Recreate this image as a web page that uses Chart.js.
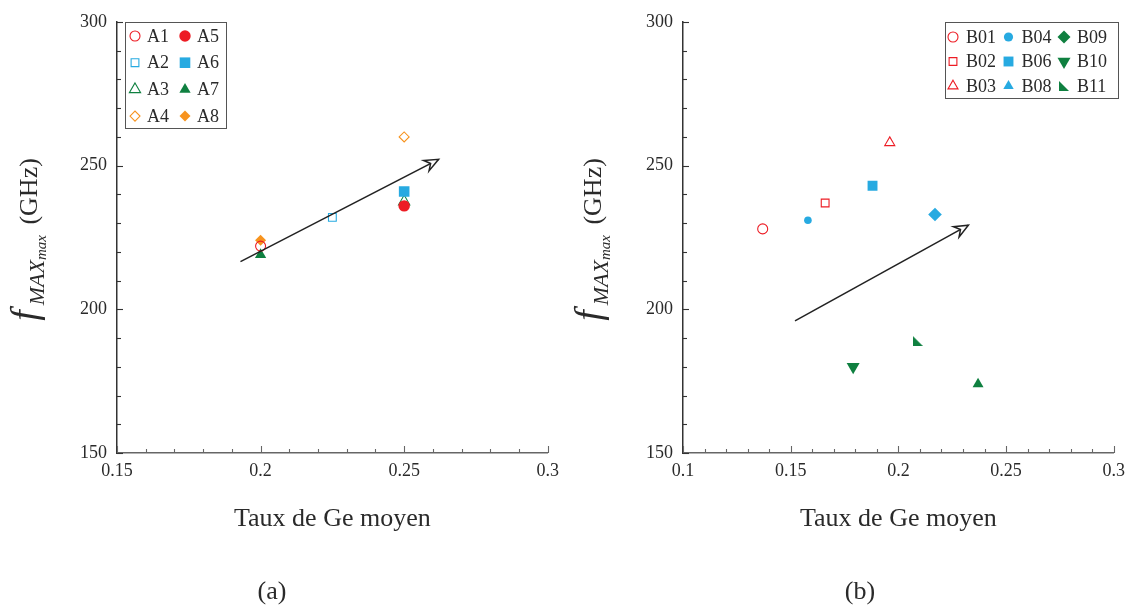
<!DOCTYPE html>
<html>
<head>
<meta charset="utf-8">
<script src="https://cdn.jsdelivr.net/npm/chart.js@4/dist/chart.umd.min.js"></script>
<style>
  html, body { margin: 0; padding: 0; background: #fff; }
  #wrap { position: relative; width: 1132px; height: 608px; }
  canvas { position: absolute; top: 0; }
  #chartA { left: 0; }
  #chartB { left: 566px; }
</style>
</head>
<body>
<div id="wrap">
  <canvas id="chartA" width="566" height="608"></canvas>
  <canvas id="chartB" width="566" height="608"></canvas>
</div>
<script>
// panel (a)
const seriesA = ["A1", "A2", "A3", "A4", "A5", "A6", "A7", "A8"];
const geA = [0.2, 0.225, 0.25, 0.25, 0.25, 0.25, 0.2, 0.2];
const fmaxA = [222, 232, 237.5, 260, 236, 241, 219, 224];
const arrowAx = [0.193, 0.262];
const arrowAy = [216.6, 252.2];
const legendA = ["A1", "A5", "A2", "A6", "A3", "A7", "A4", "A8"];

// panel (b)
const seriesB = ["B01", "B02", "B03", "B04", "B06", "B08", "B09", "B10", "B11"];
const geB = [0.137, 0.166, 0.196, 0.158, 0.188, 0.217, 0.237, 0.179, 0.209];
const fmaxB = [228, 237, 258, 231, 243, 233, 174, 180, 189];
const arrowBx = [0.152, 0.2325];
const arrowBy = [196, 229.3];
const legendB = ["B01", "B04", "B09", "B02", "B06", "B10", "B03", "B08", "B11"];

// axes
const xTicksA = [0.15, 0.2, 0.25, 0.3];
const xTicksB = [0.1, 0.15, 0.2, 0.25, 0.3];
const yTicks = [150, 200, 250, 300];

const RED = "#ed1c24", BLUE = "#27aae1", GREEN = "#0f8040", ORANGE = "#f7931e";
const INK = "#2a2a2a";
const SERIF = '"Liberation Serif", "DejaVu Serif", serif';

function rightTri(size, color) {
  const c = document.createElement("canvas");
  c.width = size; c.height = size;
  const g = c.getContext("2d");
  g.fillStyle = color;
  g.beginPath(); g.moveTo(0, 0); g.lineTo(0, size); g.lineTo(size, size); g.closePath(); g.fill();
  return c;
}

const marksA = {
  A1: { style: "circle", color: RED, open: true, r: 5, order: 2 },
  A2: { style: "rect", color: BLUE, open: true, r: 5.5 },
  A3: { style: "triangle", color: GREEN, open: true, r: 6.5, order: 4 },
  A4: { style: "rectRot", color: ORANGE, open: true, r: 5 },
  A5: { style: "circle", color: RED, open: false, r: 5.7, order: 1 },
  A6: { style: "rect", color: BLUE, open: false, r: 7.5, order: 3 },
  A7: { style: "triangle", color: GREEN, open: false, r: 6.5, order: 4 },
  A8: { style: "rectRot", color: ORANGE, open: false, r: 5.5, order: 3 }
};

const marksB = {
  B01: { style: "circle", color: RED, open: true, r: 5 },
  B02: { style: "rect", color: RED, open: true, r: 5.5 },
  B03: { style: "triangle", color: RED, open: true, r: 5.8 },
  B04: { style: "circle", color: BLUE, open: false, r: 3.8 },
  B06: { style: "rect", color: BLUE, open: false, r: 7 },
  B08: { style: "rectRot", color: BLUE, open: false, r: 6.8 },
  B09: { style: "triangle", color: GREEN, open: false, r: 6.3 },
  B10: { style: "triangle", color: GREEN, open: false, r: 7.5, rot: 180 },
  B11: { style: rightTri(10, GREEN), color: GREEN, open: false, r: 5 }
};

// the legend of (b) shows other symbols for B08 / B09 than the plot
const legendMarksB = Object.assign({}, marksB, {
  B04: { style: "circle", color: BLUE, open: false, r: 4.6 },
  B08: { style: "triangle", color: BLUE, open: false, r: 6 },
  B09: { style: "rectRot", color: GREEN, open: false, r: 6.5 }
});

function scatterSets(names, xs, ys, marks) {
  return names.map((n, i) => {
    const m = marks[n];
    return {
      label: n,
      data: [{ x: xs[i], y: ys[i] }],
      pointStyle: m.style,
      pointRadius: m.r,
      pointRotation: m.rot || 0,
      backgroundColor: m.open ? "rgba(255,255,255,0)" : m.color,
      borderColor: m.color,
      borderWidth: m.open ? 1.1 : 0,
      order: m.order || 5
    };
  });
}

function arrowSet(xs, ys) {
  return {
    label: "arrow",
    data: xs.map((x, i) => ({ x: x, y: ys[i] })),
    showLine: true,
    borderColor: "#222",
    borderWidth: 1.6,
    pointRadius: 0,
    arrow: true,
    order: 0
  };
}

function tickMarks(scale, minor, major) {
  const n = Math.round((scale.max - scale.min) / minor);
  const out = [];
  for (let i = 0; i <= n; i++) {
    const v = scale.min + i * minor;
    const q = v / major;
    out.push({ v: v, major: Math.abs(q - Math.round(q)) < 1e-6 });
  }
  return out;
}

const decor = {
  id: "decor",
  afterDatasetsDraw(chart) {
    const ctx = chart.ctx;
    chart.data.datasets.forEach((ds, i) => {
      if (!ds.arrow) return;
      const pts = chart.getDatasetMeta(i).data;
      const p0 = pts[pts.length - 2], p1 = pts[pts.length - 1];
      const ang = Math.atan2(p1.y - p0.y, p1.x - p0.x);
      const L = 15, phi = 0.4;
      ctx.save();
      ctx.strokeStyle = "#222"; ctx.lineWidth = 1.5; ctx.fillStyle = "#fff";
      ctx.lineJoin = "miter";
      ctx.beginPath();
      ctx.moveTo(p1.x - L * Math.cos(ang - phi), p1.y - L * Math.sin(ang - phi));
      ctx.lineTo(p1.x, p1.y);
      ctx.lineTo(p1.x - L * Math.cos(ang + phi), p1.y - L * Math.sin(ang + phi));
      ctx.lineTo(p1.x - 0.6 * L * Math.cos(ang), p1.y - 0.6 * L * Math.sin(ang));
      ctx.closePath();
      ctx.fill(); ctx.stroke();
      ctx.restore();
    });
  },
  afterDraw(chart, args, o) {
    const { ctx, chartArea: a } = chart;
    const x = chart.scales.x, y = chart.scales.y;
    ctx.save();

    // inward ticks
    ctx.lineWidth = 1.1;
    ctx.strokeStyle = "#666";
    tickMarks(x, o.xMinor, o.xMajor).forEach(t => {
      const px = Math.round(x.getPixelForValue(t.v)) + 0.5;
      ctx.beginPath(); ctx.moveTo(px, a.bottom); ctx.lineTo(px, a.bottom - (t.major ? 7 : 4)); ctx.stroke();
    });
    ctx.strokeStyle = "#333";
    tickMarks(y, o.yMinor, o.yMajor).forEach(t => {
      const py = Math.round(y.getPixelForValue(t.v)) + 0.5;
      ctx.beginPath(); ctx.moveTo(a.left, py); ctx.lineTo(a.left + (t.major ? 6 : 4), py); ctx.stroke();
    });

    // x title and panel label
    ctx.fillStyle = INK;
    ctx.textBaseline = "alphabetic";
    ctx.textAlign = "center";
    ctx.font = "26px " + SERIF;
    ctx.fillText(o.xTitle, (a.left + a.right) / 2, 526);
    ctx.fillText(o.panel, o.panelX, 599);

    // y title : f_{MAX max} (GHz)
    const parts = [
      { t: "f", f: "italic 38px " + SERIF, dy: 0, gap: 5 },
      { t: "MAX", f: "italic 22px " + SERIF, dy: 7, gap: 0 },
      { t: "max", f: "italic 15px " + SERIF, dy: 9, gap: 4 },
      { t: " (GHz)", f: "26px " + SERIF, dy: 0, gap: 0 }
    ];
    let total = 0;
    parts.forEach(p => { ctx.font = p.f; p.w = ctx.measureText(p.t).width + p.gap; total += p.w; });
    ctx.translate(a.left - o.yTitleGap, (a.top + a.bottom) / 2 + 2);
    ctx.rotate(-Math.PI / 2);
    ctx.textAlign = "left";
    let cx = -total / 2;
    parts.forEach(p => { ctx.font = p.f; ctx.fillText(p.t, cx, p.dy); cx += p.w; });
    ctx.setTransform(1, 0, 0, 1, 0, 0);

    // legend box
    const lg = o.legend;
    ctx.strokeStyle = "#555"; ctx.lineWidth = 1;
    ctx.strokeRect(lg.x + 0.5, lg.y + 0.5, lg.w, lg.h);
    ctx.font = "18px " + SERIF;
    ctx.textAlign = "left"; ctx.textBaseline = "middle";
    lg.names.forEach((n, i) => {
      const m = lg.marks[n];
      const col = i % lg.cols, row = Math.floor(i / lg.cols);
      const mx = lg.x + lg.markDx + col * lg.colW;
      const my = lg.y + lg.row0 + row * lg.rowH;
      ctx.fillStyle = m.open ? "rgba(255,255,255,0)" : m.color;
      ctx.strokeStyle = m.color;
      ctx.lineWidth = 1.1;
      Chart.helpers.drawPoint(ctx, {
        pointStyle: m.style, radius: m.r, rotation: m.rot || 0, borderWidth: m.open ? 1.1 : 0
      }, mx, my);
      ctx.fillStyle = INK;
      ctx.fillText(n, mx + lg.textDx, my + 1);
    });
    ctx.restore();
  }
};

function axisOpts(ticksArr, width, height, borderColor) {
  const o = {
    type: "linear",
    min: ticksArr[0],
    max: ticksArr[ticksArr.length - 1],
    afterBuildTicks: s => { s.ticks = ticksArr.map(v => ({ value: v })); },
    ticks: {
      color: INK,
      font: { family: SERIF, size: 18 },
      callback: v => String(+Number(v).toFixed(3))
    },
    grid: { display: false, drawTicks: false },
    border: { display: true, color: borderColor, width: 1.5 }
  };
  if (width) { o.afterFit = s => { s.width = width; }; o.ticks.padding = 10; }
  if (height) { o.afterFit = s => { s.height = height; }; o.ticks.padding = 7; }
  return o;
}

function makeChart(id, sets, xTicks, yTitleGap, panel, panelX, legend, padLeft) {
  return new Chart(document.getElementById(id), {
    type: "scatter",
    data: { datasets: sets },
    options: {
      responsive: false,
      animation: false,
      events: [],
      layout: { padding: { left: padLeft, right: 18, top: 22, bottom: 0 } },
      scales: {
        x: axisOpts(xTicks, null, 155, "#666"),
        y: axisOpts(yTicks, 117 - padLeft, null, "#333")
      },
      plugins: {
        legend: { display: false },
        tooltip: { enabled: false },
        decor: {
          xTitle: "Taux de Ge moyen",
          panel: panel,
          panelX: panelX,
          yTitleGap: yTitleGap,
          xMinor: 0.01, xMajor: 0.05,
          yMinor: 10, yMajor: 50,
          legend: legend
        }
      }
    },
    plugins: [decor]
  });
}

makeChart("chartA",
  scatterSets(seriesA, geA, fmaxA, marksA).concat([arrowSet(arrowAx, arrowAy)]),
  xTicksA, 80, "(a)", 272,
  { x: 125, y: 22, w: 101, h: 106, cols: 2, colW: 50, row0: 14, rowH: 26.7, markDx: 10, textDx: 12, names: legendA, marks: marksA },
  0);

makeChart("chartB",
  scatterSets(seriesB, geB, fmaxB, marksB).concat([arrowSet(arrowBx, arrowBy)]),
  xTicksB, 82, "(b)", 294,
  { x: 379, y: 22, w: 173, h: 76, cols: 3, colW: 55.5, row0: 15, rowH: 24.5, markDx: 8, textDx: 13, names: legendB, marks: legendMarksB },
  1);
</script>
</body>
</html>
